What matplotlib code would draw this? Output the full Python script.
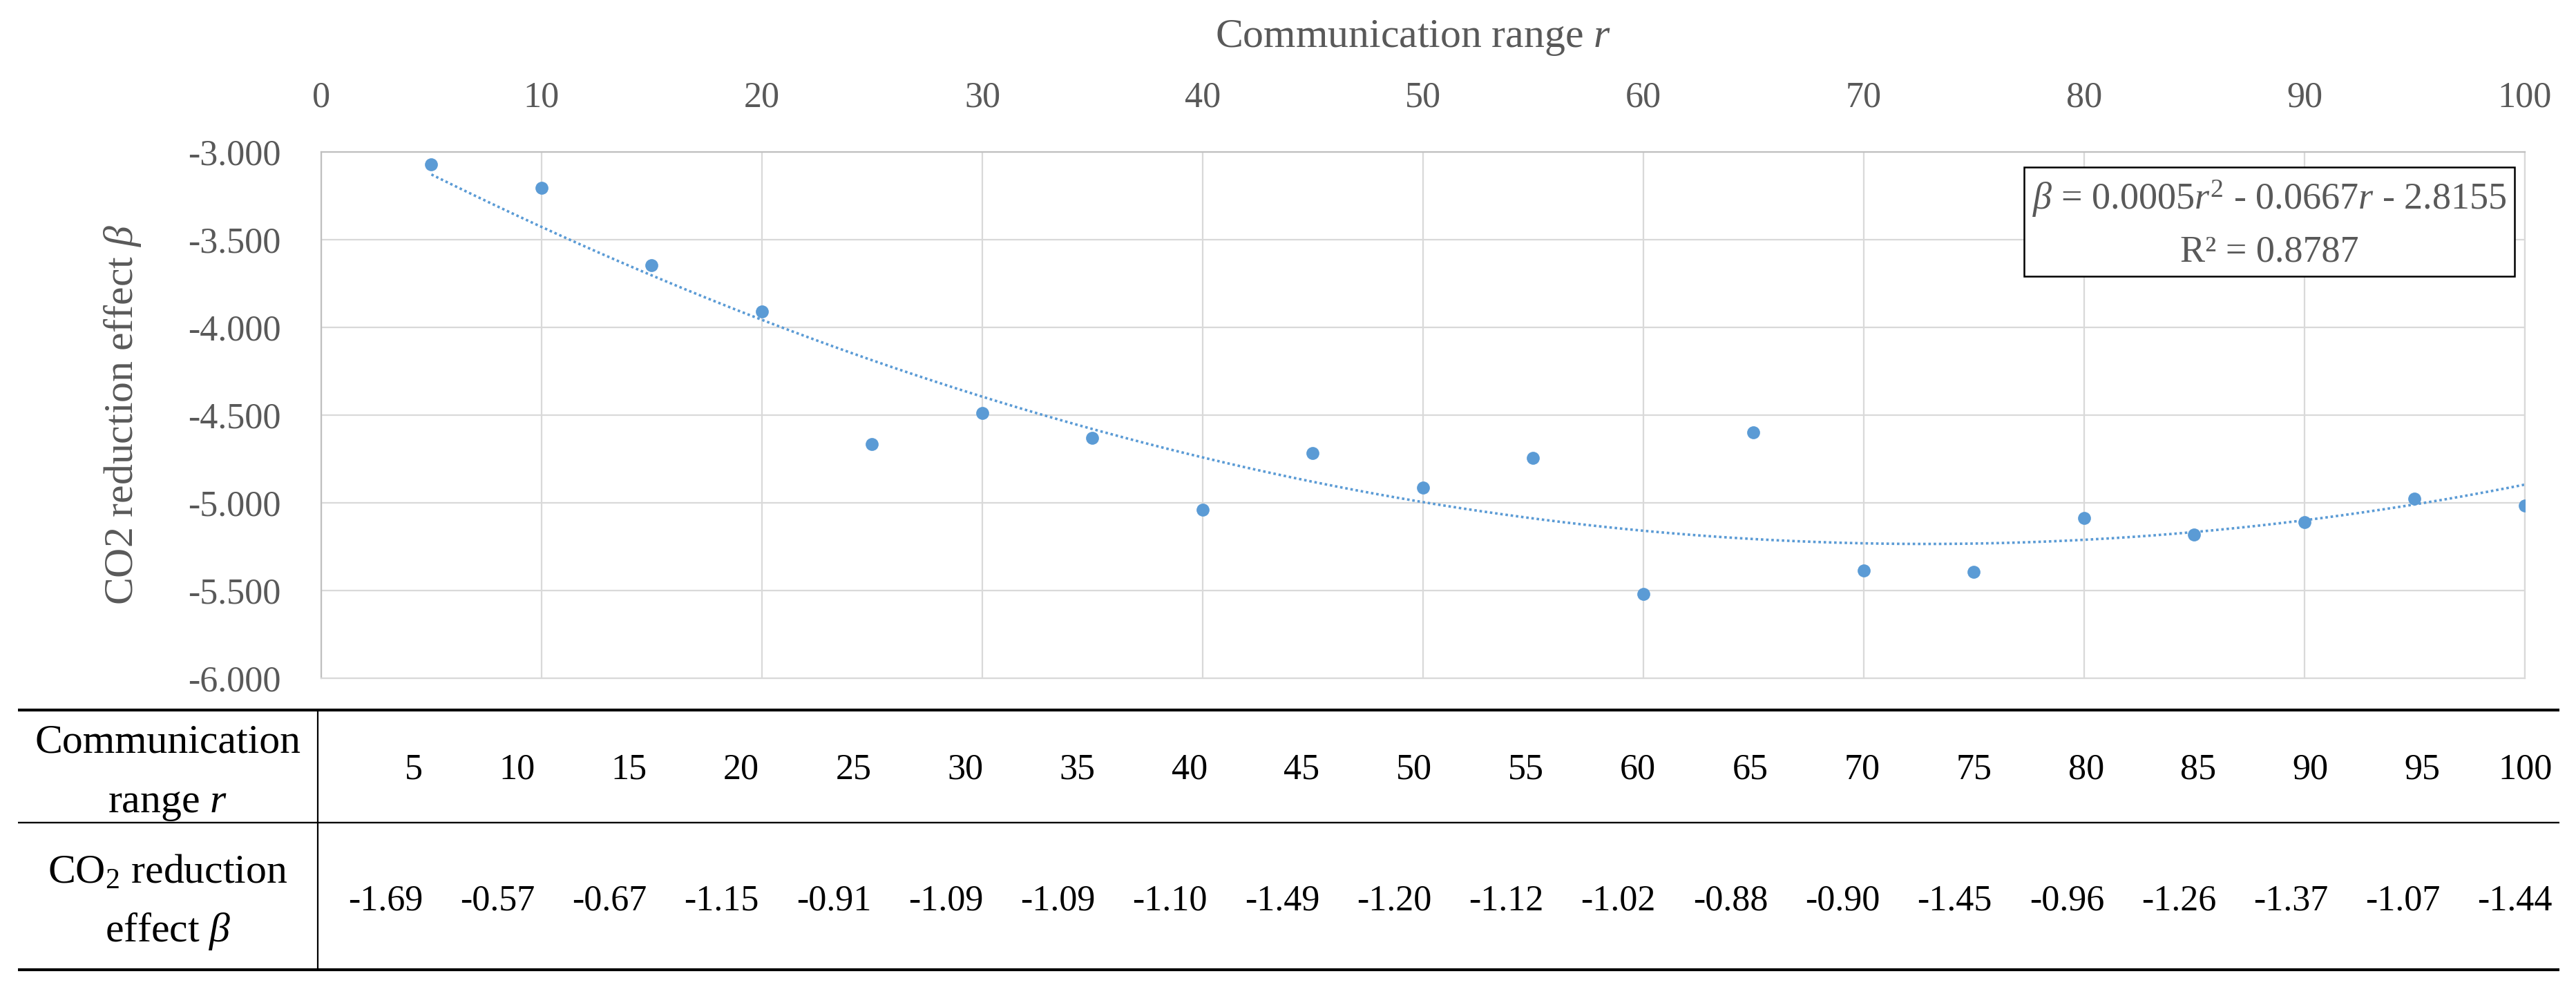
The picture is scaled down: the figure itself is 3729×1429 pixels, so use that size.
import numpy as np
import matplotlib.pyplot as plt
from matplotlib.ticker import FuncFormatter
from matplotlib.patches import Rectangle

plt.rcParams['font.family'] = ['Liberation Serif', 'DejaVu Serif']
plt.rcParams['mathtext.fontset'] = 'custom'
plt.rcParams['mathtext.rm'] = 'Liberation Serif'
plt.rcParams['mathtext.it'] = 'Liberation Serif:italic'
plt.rcParams['mathtext.bf'] = 'Liberation Serif:bold'

# Data
comm_range = [5, 10, 15, 20, 25, 30, 35, 40, 45, 50,
              55, 60, 65, 70, 75, 80, 85, 90, 95, 100]

# points of the scatter
co2_effect = [-3.069, -3.206, -3.646, -3.909, -4.664, -4.490, -4.630, -5.039, -4.715, -4.912,
              -4.746, -5.520, -4.598, -5.384, -5.394, -5.087, -5.180, -5.112, -4.978, -5.016]

# values of the table under the chart
table_beta = [-1.69, -0.57, -0.67, -1.15, -0.91, -1.09, -1.09, -1.10, -1.49, -1.20,
              -1.12, -1.02, -0.88, -0.90, -1.45, -0.96, -1.26, -1.37, -1.07, -1.44]

x_ticks = list(range(0, 101, 10))
y_ticks = [-6.0, -5.5, -5.0, -4.5, -4.0, -3.5, -3.0]

eq_label = r'$\beta$ = 0.0005$r^2$ - 0.0667$r$ - 2.8155'
r2_label = 'R² = 0.8787'

BLUE = '#5b9bd5'
GREY_TXT = '#595959'
GRID = '#d9d9d9'

W, H = 3730, 1429
fig = plt.figure(figsize=(W / 100, H / 100), dpi=100)
fig.patch.set_facecolor('white')

# Chart
ax = fig.add_axes([465 / W, 1 - 982 / H, (3655 - 465) / W, (982 - 220) / H])
ax.plot(comm_range, co2_effect, 'o', color=BLUE, markersize=13.5, mew=0, zorder=3)

# polynomial trendline (order 2)
coef = np.polyfit(comm_range, co2_effect, 2)
rr = np.linspace(min(comm_range), max(comm_range), 400)
ax.plot(rr, np.polyval(coef, rr), color=BLUE, lw=2.6, ls=(0, (1, 1.1)),
        dash_capstyle='butt', zorder=2)

ax.set_xlim(0, 100)
ax.set_ylim(-6, -3)
ax.set_xticks(x_ticks)
ax.set_yticks(y_ticks)
ax.yaxis.set_major_formatter(FuncFormatter(lambda v, p: f'{v:.3f}'))
ax.xaxis.tick_top()
ax.grid(True, color=GRID, lw=1.6)
ax.set_axisbelow(True)
ax.tick_params(length=0, labelsize=37.5, labelcolor=GREY_TXT)
ax.tick_params(axis='x', pad=39)
ax.tick_params(axis='y', pad=42)
for side, sp in ax.spines.items():
    sp.set_color('#bfbfbf' if side in ('top', 'left') else GRID)
    sp.set_linewidth(1.6)

# Overlay in pixel coordinates for labels, box and table
ov = fig.add_axes([0, 0, 1, 1])
ov.set_xlim(0, W)
ov.set_ylim(H, 0)
ov.axis('off')

ov.text(2046, 68, r'Communication range $r$', ha='center', va='baseline',
        fontsize=43, color=GREY_TXT)
ov.text(178, 601, r'CO2 reduction effect $\beta$', rotation=90, ha='center',
        va='center', fontsize=43, color=GREY_TXT)

# trendline label
ov.add_patch(Rectangle((2930, 242), 710, 158, facecolor='white',
                       edgecolor='black', lw=1.8, zorder=5))
ov.text(3285, 303, eq_label, ha='center', va='baseline', fontsize=39,
        color=GREY_TXT, zorder=6)
ov.text(3285, 378, r2_label, ha='center', va='baseline', fontsize=39,
        color=GREY_TXT, zorder=6)

# Table
tx0, tx1 = 26, 3705
cx0 = 460
ty_top, ty_mid, ty_bot = 1028, 1191, 1404
ov.plot([tx0, tx1], [ty_top, ty_top], color='black', lw=3.0, solid_capstyle='butt')
ov.plot([tx0, tx1], [ty_mid, ty_mid], color='black', lw=1.7, solid_capstyle='butt')
ov.plot([tx0, tx1], [ty_bot, ty_bot], color='black', lw=3.0, solid_capstyle='butt')
ov.plot([cx0, cx0], [ty_top, ty_bot], color='black', lw=1.6, solid_capstyle='butt')

col_w = (tx1 - cx0) / len(comm_range)
for i, (rv, bv) in enumerate(zip(comm_range, table_beta)):
    right = cx0 + (i + 1) * col_w - 10
    ov.text(right, 1128, str(rv), ha='right', va='baseline', fontsize=37.5, color='black')
    ov.text(right, 1317, f'{bv:.2f}', ha='right', va='baseline', fontsize=37.5, color='black')

hx = (tx0 + cx0) / 2
ov.text(hx, 1089, 'Communication', ha='center', va='baseline', fontsize=43)
ov.text(hx, 1176, r'range $r$', ha='center', va='baseline', fontsize=43)
ov.text(hx, 1279, r'$\mathrm{CO}_2$ reduction', ha='center', va='baseline', fontsize=43)
ov.text(hx, 1363, r'effect $\beta$', ha='center', va='baseline', fontsize=43)

fig.savefig('out.png', dpi=100, facecolor='white')
